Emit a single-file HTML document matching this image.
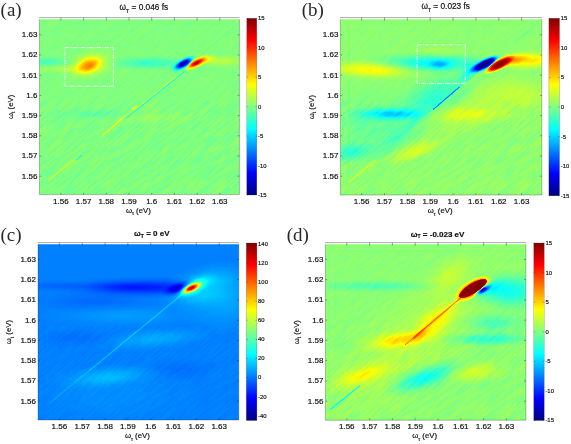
<!DOCTYPE html>
<html><head><meta charset="utf-8"><title>figure</title>
<style>
html,body{margin:0;padding:0;background:#fff;}
svg{display:block;will-change:transform;}
text{font-family:"Liberation Sans", Arial, Helvetica, sans-serif;fill:#111;stroke:#111;stroke-width:0.18px;}
.tk{font-size:8px;}
.cb{font-size:5.9px;}
.pl{font-family:"Liberation Serif", "DejaVu Serif", serif;font-size:19px;fill:#2a2a2a;stroke:none;}
.ax{font-size:7.8px;}
</style></head><body>
<svg width="571" height="444" viewBox="0 0 571 444">
<defs>
<radialGradient id="gp"><stop offset="0.00" stop-color="#fff" stop-opacity="1.000"/><stop offset="0.10" stop-color="#fff" stop-opacity="0.968"/><stop offset="0.20" stop-color="#fff" stop-opacity="0.877"/><stop offset="0.30" stop-color="#fff" stop-opacity="0.744"/><stop offset="0.40" stop-color="#fff" stop-opacity="0.588"/><stop offset="0.50" stop-color="#fff" stop-opacity="0.433"/><stop offset="0.60" stop-color="#fff" stop-opacity="0.294"/><stop offset="0.70" stop-color="#fff" stop-opacity="0.180"/><stop offset="0.80" stop-color="#fff" stop-opacity="0.096"/><stop offset="0.90" stop-color="#fff" stop-opacity="0.037"/><stop offset="1.00" stop-color="#fff" stop-opacity="0.000"/></radialGradient>
<radialGradient id="gn"><stop offset="0.00" stop-color="#000" stop-opacity="1.000"/><stop offset="0.10" stop-color="#000" stop-opacity="0.968"/><stop offset="0.20" stop-color="#000" stop-opacity="0.877"/><stop offset="0.30" stop-color="#000" stop-opacity="0.744"/><stop offset="0.40" stop-color="#000" stop-opacity="0.588"/><stop offset="0.50" stop-color="#000" stop-opacity="0.433"/><stop offset="0.60" stop-color="#000" stop-opacity="0.294"/><stop offset="0.70" stop-color="#000" stop-opacity="0.180"/><stop offset="0.80" stop-color="#000" stop-opacity="0.096"/><stop offset="0.90" stop-color="#000" stop-opacity="0.037"/><stop offset="1.00" stop-color="#000" stop-opacity="0.000"/></radialGradient>
<filter id="jet" filterUnits="userSpaceOnUse" x="0" y="0" width="571" height="444" color-interpolation-filters="sRGB">
<feGaussianBlur stdDeviation="0.7"/>
<feComponentTransfer>
<feFuncR type="table" tableValues="0 0 0 0 0.5 1 1 1 0.5"/>
<feFuncG type="table" tableValues="0 0 0.5 1 1 1 0.5 0 0"/>
<feFuncB type="table" tableValues="0.5 1 1 1 0.5 0 0 0 0"/>
</feComponentTransfer>
</filter>
<filter id="noise" filterUnits="userSpaceOnUse" x="-200" y="-200" width="400" height="400" color-interpolation-filters="sRGB">
<feTurbulence type="fractalNoise" baseFrequency="0.05 0.55" numOctaves="2" seed="7"/>
<feColorMatrix type="matrix" values="3.2 0 0 0 -1.1  3.2 0 0 0 -1.1  3.2 0 0 0 -1.1  0 0 0 0 1"/>
</filter>
<linearGradient id="cbar" x1="0" y1="1" x2="0" y2="0">
<stop offset="0" stop-color="#000080"/><stop offset="0.125" stop-color="#0000ff"/><stop offset="0.25" stop-color="#0080ff"/>
<stop offset="0.375" stop-color="#00ffff"/><stop offset="0.5" stop-color="#80ff80"/><stop offset="0.625" stop-color="#ffff00"/>
<stop offset="0.75" stop-color="#ff8000"/><stop offset="0.875" stop-color="#ff0000"/><stop offset="1" stop-color="#800000"/>
</linearGradient>
</defs>
<rect width="571" height="444" fill="#fff"/>

<clipPath id="cpa"><rect x="39.4" y="19.2" width="200.0" height="175.4"/></clipPath>
<g clip-path="url(#cpa)"><g filter="url(#jet)">
<rect x="37.4" y="17.2" width="204.0" height="179.4" fill="#808080"/>
<ellipse cx="88.8" cy="65.2" rx="19.0" ry="11.0" transform="rotate(-20 88.8 65.2)" fill="url(#gp)" opacity="0.400"/>
<ellipse cx="89.0" cy="65.0" rx="36.0" ry="19.0" transform="rotate(-12 89.0 65.0)" fill="url(#gp)" opacity="0.200"/>
<clipPath id="haU"><polygon points="-82.1,364.1 454.9,-228.9 158.4,-497.4 -378.6,95.6"/></clipPath>
<clipPath id="haL"><polygon points="-82.1,364.1 454.9,-228.9 751.4,39.6 214.4,632.6"/></clipPath>
<g clip-path="url(#haU)"><ellipse cx="183.6" cy="63.6" rx="15.5" ry="5.8" transform="rotate(-30 183.6 63.6)" fill="url(#gn)" opacity="1.000"/><ellipse cx="183.6" cy="63.6" rx="15.5" ry="5.8" transform="rotate(-30 183.6 63.6)" fill="url(#gn)" opacity="0.267"/></g>
<g clip-path="url(#haL)"><ellipse cx="196.3" cy="63.0" rx="16.5" ry="5.4" transform="rotate(-27 196.3 63.0)" fill="url(#gp)" opacity="0.933"/></g>
<ellipse cx="207.0" cy="59.5" rx="14.0" ry="6.0" transform="rotate(-15 207.0 59.5)" fill="url(#gp)" opacity="0.167"/>
<ellipse cx="150.0" cy="63.0" rx="55.0" ry="9.0" transform="rotate(0 150.0 63.0)" fill="url(#gn)" opacity="0.147"/>
<ellipse cx="45.0" cy="62.0" rx="50.0" ry="7.5" transform="rotate(0 45.0 62.0)" fill="url(#gn)" opacity="0.107"/>
<ellipse cx="60.0" cy="69.0" rx="67.5" ry="6.0" transform="rotate(0 60.0 69.0)" fill="url(#gp)" opacity="0.067"/>
<ellipse cx="222.0" cy="61.0" rx="39.0" ry="9.0" transform="rotate(0 222.0 61.0)" fill="url(#gp)" opacity="0.120"/>
<ellipse cx="95.0" cy="114.0" rx="60.0" ry="7.5" transform="rotate(0 95.0 114.0)" fill="url(#gn)" opacity="0.067"/>
<ellipse cx="150.0" cy="118.0" rx="75.0" ry="9.0" transform="rotate(0 150.0 118.0)" fill="url(#gp)" opacity="0.053"/>
<line x1="126.0" y1="118.5" x2="186.0" y2="70.5" stroke="#000" stroke-width="1.0" stroke-opacity="0.267" stroke-linecap="round" stroke-dasharray="2.2 0.8"/>
<line x1="121.0" y1="119.5" x2="176.0" y2="77.0" stroke="#fff" stroke-width="0.9" stroke-opacity="0.200" stroke-linecap="round" />
<line x1="133.0" y1="109.0" x2="136.5" y2="106.3" stroke="#fff" stroke-width="1.5" stroke-opacity="0.267" stroke-linecap="round" />
<line x1="193.0" y1="60.0" x2="239.0" y2="20.0" stroke="#fff" stroke-width="0.9" stroke-opacity="0.100" stroke-linecap="round" />
<line x1="195.5" y1="60.0" x2="239.0" y2="22.0" stroke="#000" stroke-width="0.8" stroke-opacity="0.067" stroke-linecap="round" />
<line x1="49.0" y1="180.0" x2="77.0" y2="157.3" stroke="#fff" stroke-width="1.4" stroke-opacity="0.187" stroke-linecap="round" />
<line x1="76.5" y1="159.6" x2="81.0" y2="156.0" stroke="#000" stroke-width="1.6" stroke-opacity="0.167" stroke-linecap="round" />
<line x1="103.0" y1="134.8" x2="121.0" y2="119.5" stroke="#fff" stroke-width="1.6" stroke-opacity="0.200" stroke-linecap="round" />
<clipPath id="nla"><rect x="39.4" y="101.2" width="200.0" height="93.4"/></clipPath>
<clipPath id="nua"><rect x="39.4" y="19.2" width="200.0" height="82.0"/></clipPath>
<g clip-path="url(#nla)"><g transform="translate(139.4 106.9) rotate(-41.2)" opacity="0.035"><rect x="-160" y="-160" width="320" height="320" filter="url(#noise)"/></g></g>
<g clip-path="url(#nua)"><g transform="translate(139.4 106.9) rotate(-41.2)" opacity="0.015"><rect x="-160" y="-160" width="320" height="320" filter="url(#noise)"/></g></g>
</g></g>
<path d="M39.4 19.2V194.6H239.4V19.2" fill="none" stroke="#222" stroke-opacity="0.5" stroke-width="0.6"/>
<path d="M39.1 17.6H239.70000000000002" fill="none" stroke="#888" stroke-width="0.7"/>
<path d="M60.9 194.6v-1.8M60.9 17.6v3.0" stroke="#222" stroke-width="0.5" stroke-opacity="0.8"/>
<text class="tk" x="60.9" y="203.7" text-anchor="middle">1.56</text>
<path d="M83.6 194.6v-1.8M83.6 17.6v3.0" stroke="#222" stroke-width="0.5" stroke-opacity="0.8"/>
<text class="tk" x="83.6" y="203.7" text-anchor="middle">1.57</text>
<path d="M106.3 194.6v-1.8M106.3 17.6v3.0" stroke="#222" stroke-width="0.5" stroke-opacity="0.8"/>
<text class="tk" x="106.3" y="203.7" text-anchor="middle">1.58</text>
<path d="M129.0 194.6v-1.8M129.0 17.6v3.0" stroke="#222" stroke-width="0.5" stroke-opacity="0.8"/>
<text class="tk" x="129.0" y="203.7" text-anchor="middle">1.59</text>
<path d="M151.7 194.6v-1.8M151.7 17.6v3.0" stroke="#222" stroke-width="0.5" stroke-opacity="0.8"/>
<text class="tk" x="151.7" y="203.7" text-anchor="middle">1.6</text>
<path d="M174.4 194.6v-1.8M174.4 17.6v3.0" stroke="#222" stroke-width="0.5" stroke-opacity="0.8"/>
<text class="tk" x="174.4" y="203.7" text-anchor="middle">1.61</text>
<path d="M197.1 194.6v-1.8M197.1 17.6v3.0" stroke="#222" stroke-width="0.5" stroke-opacity="0.8"/>
<text class="tk" x="197.1" y="203.7" text-anchor="middle">1.62</text>
<path d="M219.8 194.6v-1.8M219.8 17.6v3.0" stroke="#222" stroke-width="0.5" stroke-opacity="0.8"/>
<text class="tk" x="219.8" y="203.7" text-anchor="middle">1.63</text>
<path d="M39.4 176.2h1.8M239.4 176.2h-1.8" stroke="#222" stroke-width="0.5" stroke-opacity="0.8"/>
<text class="tk" x="37.4" y="178.5" text-anchor="end">1.56</text>
<path d="M39.4 156.0h1.8M239.4 156.0h-1.8" stroke="#222" stroke-width="0.5" stroke-opacity="0.8"/>
<text class="tk" x="37.4" y="158.3" text-anchor="end">1.57</text>
<path d="M39.4 135.79999999999998h1.8M239.4 135.79999999999998h-1.8" stroke="#222" stroke-width="0.5" stroke-opacity="0.8"/>
<text class="tk" x="37.4" y="138.1" text-anchor="end">1.58</text>
<path d="M39.4 115.6h1.8M239.4 115.6h-1.8" stroke="#222" stroke-width="0.5" stroke-opacity="0.8"/>
<text class="tk" x="37.4" y="117.9" text-anchor="end">1.59</text>
<path d="M39.4 95.39999999999999h1.8M239.4 95.39999999999999h-1.8" stroke="#222" stroke-width="0.5" stroke-opacity="0.8"/>
<text class="tk" x="37.4" y="97.7" text-anchor="end">1.6</text>
<path d="M39.4 75.19999999999999h1.8M239.4 75.19999999999999h-1.8" stroke="#222" stroke-width="0.5" stroke-opacity="0.8"/>
<text class="tk" x="37.4" y="77.5" text-anchor="end">1.61</text>
<path d="M39.4 55.0h1.8M239.4 55.0h-1.8" stroke="#222" stroke-width="0.5" stroke-opacity="0.8"/>
<text class="tk" x="37.4" y="57.3" text-anchor="end">1.62</text>
<path d="M39.4 34.79999999999998h1.8M239.4 34.79999999999998h-1.8" stroke="#222" stroke-width="0.5" stroke-opacity="0.8"/>
<text class="tk" x="37.4" y="37.1" text-anchor="end">1.63</text>
<text class="ax" x="138.4" y="212.6" text-anchor="middle">ω<tspan font-size="4.8" dy="2.8">τ</tspan><tspan dy="-2.8"> (eV)</tspan></text>
<text class="ax" transform="translate(12.6 106.9) rotate(-90)" text-anchor="middle">ω<tspan font-size="4.8" dy="2.6">t</tspan><tspan dy="-2.6"> (eV)</tspan></text>
<text x="143.9" y="9.5" text-anchor="middle" font-size="8.3" font-weight="normal">ω<tspan font-size="5.1" dy="3.4">T</tspan><tspan dy="-3.4"> = 0.046 fs</tspan></text>
<rect x="246.8" y="18.3" width="10.0" height="176.7" fill="url(#cbar)"/>
<rect x="246.8" y="18.3" width="10.0" height="176.7" fill="none" stroke="#333" stroke-opacity="0.5" stroke-width="0.4"/>
<path d="M246.8 18.3h1.5M256.8 18.3h-1.5" stroke="#222" stroke-width="0.4" stroke-opacity="0.7"/>
<text class="cb" x="258.0" y="20.2">15</text>
<path d="M246.8 47.75h1.5M256.8 47.75h-1.5" stroke="#222" stroke-width="0.4" stroke-opacity="0.7"/>
<text class="cb" x="258.0" y="49.6">10</text>
<path d="M246.8 77.2h1.5M256.8 77.2h-1.5" stroke="#222" stroke-width="0.4" stroke-opacity="0.7"/>
<text class="cb" x="258.0" y="79.1">5</text>
<path d="M246.8 106.64999999999998h1.5M256.8 106.64999999999998h-1.5" stroke="#222" stroke-width="0.4" stroke-opacity="0.7"/>
<text class="cb" x="258.0" y="108.5">0</text>
<path d="M246.8 136.1h1.5M256.8 136.1h-1.5" stroke="#222" stroke-width="0.4" stroke-opacity="0.7"/>
<text class="cb" x="258.0" y="138.0">-5</text>
<path d="M246.8 165.55h1.5M256.8 165.55h-1.5" stroke="#222" stroke-width="0.4" stroke-opacity="0.7"/>
<text class="cb" x="258.0" y="167.5">-10</text>
<path d="M246.8 194.99999999999997h1.5M256.8 194.99999999999997h-1.5" stroke="#222" stroke-width="0.4" stroke-opacity="0.7"/>
<text class="cb" x="258.0" y="196.9">-15</text>
<text class="pl" x="0.6" y="15.6">(a)</text>
<rect x="64.8" y="47.6" width="48.6" height="38.6" fill="none" stroke="#fff" stroke-width="0.8" stroke-dasharray="4.5 1.2 1 1.2"/>
<clipPath id="cpb"><rect x="340.4" y="19.2" width="201.39999999999998" height="175.8"/></clipPath>
<g clip-path="url(#cpb)"><g filter="url(#jet)">
<rect x="338.4" y="17.2" width="205.39999999999998" height="179.8" fill="#848484"/>
<ellipse cx="378.0" cy="69.5" rx="58.0" ry="12.5" transform="rotate(0 378.0 69.5)" fill="url(#gp)" opacity="0.248"/>
<ellipse cx="350.0" cy="68.0" rx="40.0" ry="10.0" transform="rotate(0 350.0 68.0)" fill="url(#gp)" opacity="0.069"/>
<ellipse cx="432.0" cy="63.2" rx="85.0" ry="13.0" transform="rotate(0 432.0 63.2)" fill="url(#gn)" opacity="0.271"/>
<ellipse cx="439.5" cy="64.5" rx="16.0" ry="7.5" transform="rotate(0 439.5 64.5)" fill="url(#gn)" opacity="0.258"/>
<ellipse cx="440.0" cy="51.0" rx="40.0" ry="7.0" transform="rotate(0 440.0 51.0)" fill="url(#gp)" opacity="0.055"/>
<clipPath id="hbU"><polygon points="196.2,344.7 776.6,-205.7 501.4,-496.0 -79.1,54.5"/></clipPath>
<clipPath id="hbL"><polygon points="196.2,344.7 776.6,-205.7 1051.9,84.5 471.4,635.0"/></clipPath>
<g clip-path="url(#hbU)"><ellipse cx="484.8" cy="64.2" rx="18.5" ry="5.6" transform="rotate(-28 484.8 64.2)" fill="url(#gn)" opacity="1.000"/><ellipse cx="484.8" cy="64.2" rx="18.5" ry="5.6" transform="rotate(-28 484.8 64.2)" fill="url(#gn)" opacity="1.000"/><ellipse cx="484.8" cy="64.2" rx="18.5" ry="5.6" transform="rotate(-28 484.8 64.2)" fill="url(#gn)" opacity="0.903"/></g>
<g clip-path="url(#hbL)"><ellipse cx="499.8" cy="64.2" rx="18.5" ry="5.6" transform="rotate(-28 499.8 64.2)" fill="url(#gp)" opacity="1.000"/><ellipse cx="499.8" cy="64.2" rx="18.5" ry="5.6" transform="rotate(-28 499.8 64.2)" fill="url(#gp)" opacity="1.000"/><ellipse cx="499.8" cy="64.2" rx="18.5" ry="5.6" transform="rotate(-28 499.8 64.2)" fill="url(#gp)" opacity="1.000"/><ellipse cx="499.8" cy="64.2" rx="18.5" ry="5.6" transform="rotate(-28 499.8 64.2)" fill="url(#gp)" opacity="0.103"/></g>
<ellipse cx="474.0" cy="68.0" rx="20.0" ry="8.0" transform="rotate(-25 474.0 68.0)" fill="url(#gn)" opacity="0.226"/>
<ellipse cx="466.0" cy="76.0" rx="14.0" ry="7.0" transform="rotate(-40 466.0 76.0)" fill="url(#gn)" opacity="0.161"/>
<ellipse cx="513.0" cy="60.0" rx="22.0" ry="8.0" transform="rotate(-15 513.0 60.0)" fill="url(#gp)" opacity="0.345"/>
<ellipse cx="530.0" cy="60.5" rx="42.0" ry="12.0" transform="rotate(-3 530.0 60.5)" fill="url(#gp)" opacity="0.290"/>
<ellipse cx="520.0" cy="95.0" rx="60.0" ry="27.0" transform="rotate(0 520.0 95.0)" fill="url(#gp)" opacity="0.103"/>
<clipPath id="hdU"><polygon points="129.8,370.1 736.8,-151.1 476.2,-454.6 -130.8,66.6"/></clipPath>
<clipPath id="hdL"><polygon points="129.8,370.1 736.8,-151.1 997.4,152.4 390.4,673.6"/></clipPath>
<g clip-path="url(#hdU)"><ellipse cx="436.0" cy="98.0" rx="60.0" ry="30.0" transform="rotate(-25 436.0 98.0)" fill="url(#gn)" opacity="0.194"/></g>
<g clip-path="url(#hdL)"><ellipse cx="470.0" cy="110.0" rx="70.0" ry="30.0" transform="rotate(-30 470.0 110.0)" fill="url(#gp)" opacity="0.069"/></g>
<ellipse cx="392.0" cy="114.0" rx="51.0" ry="9.0" transform="rotate(0 392.0 114.0)" fill="url(#gn)" opacity="0.355"/>
<ellipse cx="372.0" cy="125.0" rx="70.0" ry="50.0" transform="rotate(0 372.0 125.0)" fill="url(#gn)" opacity="0.084"/>
<ellipse cx="352.0" cy="152.0" rx="30.0" ry="13.5" transform="rotate(-10 352.0 152.0)" fill="url(#gn)" opacity="0.194"/>
<ellipse cx="415.0" cy="151.0" rx="38.0" ry="11.0" transform="rotate(-20 415.0 151.0)" fill="url(#gp)" opacity="0.179"/>
<ellipse cx="470.0" cy="115.0" rx="67.5" ry="12.0" transform="rotate(0 470.0 115.0)" fill="url(#gp)" opacity="0.138"/>
<ellipse cx="400.0" cy="135.0" rx="60.0" ry="12.0" transform="rotate(-38 400.0 135.0)" fill="url(#gn)" opacity="0.097"/>
<ellipse cx="455.0" cy="100.0" rx="40.0" ry="9.0" transform="rotate(-40 455.0 100.0)" fill="url(#gn)" opacity="0.097"/>
<line x1="433.3" y1="109.5" x2="459.5" y2="87.0" stroke="#000" stroke-width="1.3" stroke-opacity="0.516" stroke-linecap="round" stroke-dasharray="2.2 0.7"/>
<line x1="459.5" y1="87.0" x2="482.0" y2="68.0" stroke="#000" stroke-width="1.0" stroke-opacity="0.194" stroke-linecap="round" />
<line x1="349.0" y1="182.0" x2="376.0" y2="160.0" stroke="#fff" stroke-width="1.3" stroke-opacity="0.221" stroke-linecap="round" />
<line x1="514.0" y1="44.0" x2="541.0" y2="19.0" stroke="#000" stroke-width="0.9" stroke-opacity="0.097" stroke-linecap="round" />
<clipPath id="nlb"><rect x="340.4" y="101.2" width="201.39999999999998" height="93.8"/></clipPath>
<clipPath id="nub"><rect x="340.4" y="19.2" width="201.39999999999998" height="82.0"/></clipPath>
<g clip-path="url(#nlb)"><g transform="translate(441.1 107.1) rotate(-41.2)" opacity="0.035"><rect x="-160" y="-160" width="320" height="320" filter="url(#noise)"/></g></g>
<g clip-path="url(#nub)"><g transform="translate(441.1 107.1) rotate(-41.2)" opacity="0.015"><rect x="-160" y="-160" width="320" height="320" filter="url(#noise)"/></g></g>
</g></g>
<path d="M340.4 19.2V195.0H541.8V19.2" fill="none" stroke="#222" stroke-opacity="0.5" stroke-width="0.6"/>
<path d="M340.09999999999997 17.6H542.0999999999999" fill="none" stroke="#888" stroke-width="0.7"/>
<path d="M361.6 195.0v-1.8M361.6 17.6v3.0" stroke="#222" stroke-width="0.5" stroke-opacity="0.8"/>
<text class="tk" x="361.6" y="204.1" text-anchor="middle">1.56</text>
<path d="M384.5 195.0v-1.8M384.5 17.6v3.0" stroke="#222" stroke-width="0.5" stroke-opacity="0.8"/>
<text class="tk" x="384.46000000000004" y="204.1" text-anchor="middle">1.57</text>
<path d="M407.3 195.0v-1.8M407.3 17.6v3.0" stroke="#222" stroke-width="0.5" stroke-opacity="0.8"/>
<text class="tk" x="407.32000000000005" y="204.1" text-anchor="middle">1.58</text>
<path d="M430.2 195.0v-1.8M430.2 17.6v3.0" stroke="#222" stroke-width="0.5" stroke-opacity="0.8"/>
<text class="tk" x="430.18" y="204.1" text-anchor="middle">1.59</text>
<path d="M453.0 195.0v-1.8M453.0 17.6v3.0" stroke="#222" stroke-width="0.5" stroke-opacity="0.8"/>
<text class="tk" x="453.04" y="204.1" text-anchor="middle">1.6</text>
<path d="M475.9 195.0v-1.8M475.9 17.6v3.0" stroke="#222" stroke-width="0.5" stroke-opacity="0.8"/>
<text class="tk" x="475.90000000000003" y="204.1" text-anchor="middle">1.61</text>
<path d="M498.8 195.0v-1.8M498.8 17.6v3.0" stroke="#222" stroke-width="0.5" stroke-opacity="0.8"/>
<text class="tk" x="498.76" y="204.1" text-anchor="middle">1.62</text>
<path d="M521.6 195.0v-1.8M521.6 17.6v3.0" stroke="#222" stroke-width="0.5" stroke-opacity="0.8"/>
<text class="tk" x="521.62" y="204.1" text-anchor="middle">1.63</text>
<path d="M340.4 176.2h1.8M541.8 176.2h-1.8" stroke="#222" stroke-width="0.5" stroke-opacity="0.8"/>
<text class="tk" x="338.4" y="178.5" text-anchor="end">1.56</text>
<path d="M340.4 156.0h1.8M541.8 156.0h-1.8" stroke="#222" stroke-width="0.5" stroke-opacity="0.8"/>
<text class="tk" x="338.4" y="158.3" text-anchor="end">1.57</text>
<path d="M340.4 135.79999999999998h1.8M541.8 135.79999999999998h-1.8" stroke="#222" stroke-width="0.5" stroke-opacity="0.8"/>
<text class="tk" x="338.4" y="138.1" text-anchor="end">1.58</text>
<path d="M340.4 115.6h1.8M541.8 115.6h-1.8" stroke="#222" stroke-width="0.5" stroke-opacity="0.8"/>
<text class="tk" x="338.4" y="117.9" text-anchor="end">1.59</text>
<path d="M340.4 95.39999999999999h1.8M541.8 95.39999999999999h-1.8" stroke="#222" stroke-width="0.5" stroke-opacity="0.8"/>
<text class="tk" x="338.4" y="97.7" text-anchor="end">1.6</text>
<path d="M340.4 75.19999999999999h1.8M541.8 75.19999999999999h-1.8" stroke="#222" stroke-width="0.5" stroke-opacity="0.8"/>
<text class="tk" x="338.4" y="77.5" text-anchor="end">1.61</text>
<path d="M340.4 55.0h1.8M541.8 55.0h-1.8" stroke="#222" stroke-width="0.5" stroke-opacity="0.8"/>
<text class="tk" x="338.4" y="57.3" text-anchor="end">1.62</text>
<path d="M340.4 34.79999999999998h1.8M541.8 34.79999999999998h-1.8" stroke="#222" stroke-width="0.5" stroke-opacity="0.8"/>
<text class="tk" x="338.4" y="37.1" text-anchor="end">1.63</text>
<text class="ax" x="440.1" y="213.0" text-anchor="middle">ω<tspan font-size="4.8" dy="2.8">τ</tspan><tspan dy="-2.8"> (eV)</tspan></text>
<text class="ax" transform="translate(313.6 107.1) rotate(-90)" text-anchor="middle">ω<tspan font-size="4.8" dy="2.6">t</tspan><tspan dy="-2.6"> (eV)</tspan></text>
<text x="445.7" y="8.9" text-anchor="middle" font-size="8.3" font-weight="normal">ω<tspan font-size="5.1" dy="3.4">T</tspan><tspan dy="-3.4"> = 0.023 fs</tspan></text>
<rect x="548.9" y="18.3" width="10.6" height="177.5" fill="url(#cbar)"/>
<rect x="548.9" y="18.3" width="10.6" height="177.5" fill="none" stroke="#333" stroke-opacity="0.5" stroke-width="0.4"/>
<path d="M548.9 18.3h1.5M559.5 18.3h-1.5" stroke="#222" stroke-width="0.4" stroke-opacity="0.7"/>
<text class="cb" x="560.7" y="20.2">15</text>
<path d="M548.9 47.88333333333333h1.5M559.5 47.88333333333333h-1.5" stroke="#222" stroke-width="0.4" stroke-opacity="0.7"/>
<text class="cb" x="560.7" y="49.8">10</text>
<path d="M548.9 77.46666666666667h1.5M559.5 77.46666666666667h-1.5" stroke="#222" stroke-width="0.4" stroke-opacity="0.7"/>
<text class="cb" x="560.7" y="79.4">5</text>
<path d="M548.9 107.05h1.5M559.5 107.05h-1.5" stroke="#222" stroke-width="0.4" stroke-opacity="0.7"/>
<text class="cb" x="560.7" y="109.0">0</text>
<path d="M548.9 136.63333333333333h1.5M559.5 136.63333333333333h-1.5" stroke="#222" stroke-width="0.4" stroke-opacity="0.7"/>
<text class="cb" x="560.7" y="138.5">-5</text>
<path d="M548.9 166.21666666666667h1.5M559.5 166.21666666666667h-1.5" stroke="#222" stroke-width="0.4" stroke-opacity="0.7"/>
<text class="cb" x="560.7" y="168.1">-10</text>
<path d="M548.9 195.8h1.5M559.5 195.8h-1.5" stroke="#222" stroke-width="0.4" stroke-opacity="0.7"/>
<text class="cb" x="560.7" y="197.7">-15</text>
<text class="pl" x="301.8" y="15.6">(b)</text>
<rect x="417" y="44.8" width="48.3" height="38.6" fill="none" stroke="#fff" stroke-width="0.8" stroke-dasharray="4.5 1.2 1 1.2"/>
<clipPath id="cpc"><rect x="38.0" y="244.2" width="200.8" height="175.8"/></clipPath>
<g clip-path="url(#cpc)"><g filter="url(#jet)">
<rect x="36.0" y="242.2" width="204.8" height="179.8" fill="#404040"/>
<ellipse cx="148.0" cy="287.5" rx="100.0" ry="12.0" transform="rotate(0 148.0 287.5)" fill="url(#gn)" opacity="0.383"/>
<ellipse cx="120.0" cy="287.0" rx="45.0" ry="7.0" transform="rotate(0 120.0 287.0)" fill="url(#gn)" opacity="0.128"/>
<ellipse cx="180.5" cy="288.0" rx="21.0" ry="7.5" transform="rotate(-14 180.5 288.0)" fill="url(#gn)" opacity="0.894"/>
<ellipse cx="55.0" cy="286.0" rx="60.0" ry="7.0" transform="rotate(0 55.0 286.0)" fill="url(#gn)" opacity="0.106"/>
<ellipse cx="95.0" cy="301.0" rx="80.0" ry="14.0" transform="rotate(0 95.0 301.0)" fill="url(#gn)" opacity="0.085"/>
<ellipse cx="202.0" cy="288.0" rx="50.0" ry="24.0" transform="rotate(-18 202.0 288.0)" fill="url(#gp)" opacity="0.094"/>
<ellipse cx="222.0" cy="298.0" rx="55.0" ry="42.0" transform="rotate(0 222.0 298.0)" fill="url(#gp)" opacity="0.058"/>
<ellipse cx="195.0" cy="286.0" rx="26.0" ry="11.0" transform="rotate(-25 195.0 286.0)" fill="url(#gp)" opacity="0.158"/>
<ellipse cx="191.5" cy="288.0" rx="19.0" ry="8.0" transform="rotate(-25 191.5 288.0)" fill="url(#gp)" opacity="0.288"/>
<ellipse cx="191.3" cy="288.0" rx="13.5" ry="5.2" transform="rotate(-25 191.3 288.0)" fill="url(#gp)" opacity="0.899"/>
<ellipse cx="125.0" cy="316.0" rx="100.0" ry="14.0" transform="rotate(0 125.0 316.0)" fill="url(#gp)" opacity="0.036"/>
<ellipse cx="108.0" cy="377.0" rx="60.0" ry="13.5" transform="rotate(-5 108.0 377.0)" fill="url(#gp)" opacity="0.072"/>
<ellipse cx="110.0" cy="395.0" rx="120.0" ry="40.0" transform="rotate(0 110.0 395.0)" fill="url(#gp)" opacity="0.018"/>
<ellipse cx="155.0" cy="339.0" rx="67.5" ry="13.5" transform="rotate(-5 155.0 339.0)" fill="url(#gp)" opacity="0.058"/>
<ellipse cx="75.0" cy="338.0" rx="50.0" ry="12.0" transform="rotate(0 75.0 338.0)" fill="url(#gn)" opacity="0.064"/>
<ellipse cx="182.0" cy="370.0" rx="48.0" ry="15.0" transform="rotate(0 182.0 370.0)" fill="url(#gn)" opacity="0.064"/>
<line x1="135.0" y1="333.0" x2="185.0" y2="292.0" stroke="#fff" stroke-width="1.3" stroke-opacity="0.079" stroke-linecap="round" />
<line x1="90.0" y1="370.0" x2="135.0" y2="333.0" stroke="#fff" stroke-width="1.3" stroke-opacity="0.079" stroke-linecap="round" />
<line x1="49.2" y1="403.6" x2="90.0" y2="370.0" stroke="#fff" stroke-width="1.2" stroke-opacity="0.050" stroke-linecap="round" />
<clipPath id="nlc"><rect x="38.0" y="326.2" width="200.8" height="93.8"/></clipPath>
<clipPath id="nuc"><rect x="38.0" y="244.2" width="200.8" height="82.0"/></clipPath>
<g clip-path="url(#nlc)"><g transform="translate(138.4 332.1) rotate(-41.2)" opacity="0.006"><rect x="-160" y="-160" width="320" height="320" filter="url(#noise)"/></g></g>
</g></g>
<path d="M38.0 244.2V420.0H238.8V244.2" fill="none" stroke="#222" stroke-opacity="0.5" stroke-width="0.6"/>
<path d="M37.7 242.6H239.10000000000002" fill="none" stroke="#888" stroke-width="0.7"/>
<path d="M59.4 420.0v-1.8M59.4 242.6v3.0" stroke="#222" stroke-width="0.5" stroke-opacity="0.8"/>
<text class="tk" x="59.4" y="429.1" text-anchor="middle">1.56</text>
<path d="M82.2 420.0v-1.8M82.2 242.6v3.0" stroke="#222" stroke-width="0.5" stroke-opacity="0.8"/>
<text class="tk" x="82.22999999999999" y="429.1" text-anchor="middle">1.57</text>
<path d="M105.1 420.0v-1.8M105.1 242.6v3.0" stroke="#222" stroke-width="0.5" stroke-opacity="0.8"/>
<text class="tk" x="105.06" y="429.1" text-anchor="middle">1.58</text>
<path d="M127.9 420.0v-1.8M127.9 242.6v3.0" stroke="#222" stroke-width="0.5" stroke-opacity="0.8"/>
<text class="tk" x="127.88999999999999" y="429.1" text-anchor="middle">1.59</text>
<path d="M150.7 420.0v-1.8M150.7 242.6v3.0" stroke="#222" stroke-width="0.5" stroke-opacity="0.8"/>
<text class="tk" x="150.72" y="429.1" text-anchor="middle">1.6</text>
<path d="M173.5 420.0v-1.8M173.5 242.6v3.0" stroke="#222" stroke-width="0.5" stroke-opacity="0.8"/>
<text class="tk" x="173.54999999999998" y="429.1" text-anchor="middle">1.61</text>
<path d="M196.4 420.0v-1.8M196.4 242.6v3.0" stroke="#222" stroke-width="0.5" stroke-opacity="0.8"/>
<text class="tk" x="196.38" y="429.1" text-anchor="middle">1.62</text>
<path d="M219.2 420.0v-1.8M219.2 242.6v3.0" stroke="#222" stroke-width="0.5" stroke-opacity="0.8"/>
<text class="tk" x="219.21" y="429.1" text-anchor="middle">1.63</text>
<path d="M38.0 401.2h1.8M238.8 401.2h-1.8" stroke="#222" stroke-width="0.5" stroke-opacity="0.8"/>
<text class="tk" x="36.0" y="403.5" text-anchor="end">1.56</text>
<path d="M38.0 380.94h1.8M238.8 380.94h-1.8" stroke="#222" stroke-width="0.5" stroke-opacity="0.8"/>
<text class="tk" x="36.0" y="383.2" text-anchor="end">1.57</text>
<path d="M38.0 360.68h1.8M238.8 360.68h-1.8" stroke="#222" stroke-width="0.5" stroke-opacity="0.8"/>
<text class="tk" x="36.0" y="363.0" text-anchor="end">1.58</text>
<path d="M38.0 340.41999999999996h1.8M238.8 340.41999999999996h-1.8" stroke="#222" stroke-width="0.5" stroke-opacity="0.8"/>
<text class="tk" x="36.0" y="342.7" text-anchor="end">1.59</text>
<path d="M38.0 320.15999999999997h1.8M238.8 320.15999999999997h-1.8" stroke="#222" stroke-width="0.5" stroke-opacity="0.8"/>
<text class="tk" x="36.0" y="322.5" text-anchor="end">1.6</text>
<path d="M38.0 299.9h1.8M238.8 299.9h-1.8" stroke="#222" stroke-width="0.5" stroke-opacity="0.8"/>
<text class="tk" x="36.0" y="302.2" text-anchor="end">1.61</text>
<path d="M38.0 279.64h1.8M238.8 279.64h-1.8" stroke="#222" stroke-width="0.5" stroke-opacity="0.8"/>
<text class="tk" x="36.0" y="281.9" text-anchor="end">1.62</text>
<path d="M38.0 259.38h1.8M238.8 259.38h-1.8" stroke="#222" stroke-width="0.5" stroke-opacity="0.8"/>
<text class="tk" x="36.0" y="261.7" text-anchor="end">1.63</text>
<text class="ax" x="137.4" y="438.0" text-anchor="middle">ω<tspan font-size="4.8" dy="2.8">τ</tspan><tspan dy="-2.8"> (eV)</tspan></text>
<text class="ax" transform="translate(11.2 332.1) rotate(-90)" text-anchor="middle">ω<tspan font-size="4.8" dy="2.6">t</tspan><tspan dy="-2.6"> (eV)</tspan></text>
<text x="151.8" y="236.4" text-anchor="middle" font-size="8.0" font-weight="bold">ω<tspan font-size="5.0" dy="1.6">T</tspan><tspan dy="-1.6"> = 0 eV</tspan></text>
<rect x="246.3" y="243.0" width="10.6" height="177.5" fill="url(#cbar)"/>
<rect x="246.3" y="243.0" width="10.6" height="177.5" fill="none" stroke="#333" stroke-opacity="0.5" stroke-width="0.4"/>
<path d="M246.3 244.0h1.5M256.9 244.0h-1.5" stroke="#222" stroke-width="0.4" stroke-opacity="0.7"/>
<text class="cb" x="258.1" y="245.9">140</text>
<path d="M246.3 263.07h1.5M256.9 263.07h-1.5" stroke="#222" stroke-width="0.4" stroke-opacity="0.7"/>
<text class="cb" x="258.1" y="265.0">120</text>
<path d="M246.3 282.14h1.5M256.9 282.14h-1.5" stroke="#222" stroke-width="0.4" stroke-opacity="0.7"/>
<text class="cb" x="258.1" y="284.0">100</text>
<path d="M246.3 301.21h1.5M256.9 301.21h-1.5" stroke="#222" stroke-width="0.4" stroke-opacity="0.7"/>
<text class="cb" x="258.1" y="303.1">80</text>
<path d="M246.3 320.28h1.5M256.9 320.28h-1.5" stroke="#222" stroke-width="0.4" stroke-opacity="0.7"/>
<text class="cb" x="258.1" y="322.2">60</text>
<path d="M246.3 339.35h1.5M256.9 339.35h-1.5" stroke="#222" stroke-width="0.4" stroke-opacity="0.7"/>
<text class="cb" x="258.1" y="341.2">40</text>
<path d="M246.3 358.42h1.5M256.9 358.42h-1.5" stroke="#222" stroke-width="0.4" stroke-opacity="0.7"/>
<text class="cb" x="258.1" y="360.3">20</text>
<path d="M246.3 377.49h1.5M256.9 377.49h-1.5" stroke="#222" stroke-width="0.4" stroke-opacity="0.7"/>
<text class="cb" x="258.1" y="379.4">0</text>
<path d="M246.3 396.56h1.5M256.9 396.56h-1.5" stroke="#222" stroke-width="0.4" stroke-opacity="0.7"/>
<text class="cb" x="258.1" y="398.5">-20</text>
<path d="M246.3 415.63h1.5M256.9 415.63h-1.5" stroke="#222" stroke-width="0.4" stroke-opacity="0.7"/>
<text class="cb" x="258.1" y="417.5">-40</text>
<text class="pl" x="0.4" y="240.6">(c)</text>
<clipPath id="cpd"><rect x="325.4" y="244.2" width="200.5" height="176.0"/></clipPath>
<g clip-path="url(#cpd)"><g filter="url(#jet)">
<rect x="323.4" y="242.2" width="204.5" height="180.0" fill="#838383"/>
<ellipse cx="410.0" cy="345.0" rx="170.0" ry="60.0" transform="rotate(-41 410.0 345.0)" fill="url(#gp)" opacity="0.082"/>
<ellipse cx="375.0" cy="286.0" rx="90.0" ry="7.5" transform="rotate(0 375.0 286.0)" fill="url(#gn)" opacity="0.117"/>
<ellipse cx="450.0" cy="275.0" rx="40.0" ry="22.0" transform="rotate(-40 450.0 275.0)" fill="url(#gp)" opacity="0.103"/>
<ellipse cx="508.0" cy="291.0" rx="50.0" ry="24.0" transform="rotate(0 508.0 291.0)" fill="url(#gn)" opacity="0.260"/>
<ellipse cx="492.0" cy="288.0" rx="20.0" ry="9.0" transform="rotate(-20 492.0 288.0)" fill="url(#gn)" opacity="0.162"/>
<ellipse cx="472.9" cy="288.5" rx="23.0" ry="9.2" transform="rotate(-31.4 472.9 288.5)" fill="url(#gp)" opacity="1.000"/>
<ellipse cx="472.9" cy="288.5" rx="23.0" ry="9.2" transform="rotate(-31.4 472.9 288.5)" fill="url(#gp)" opacity="1.000"/>
<ellipse cx="472.9" cy="288.5" rx="23.0" ry="9.2" transform="rotate(-31.4 472.9 288.5)" fill="url(#gp)" opacity="0.055"/>
<ellipse cx="483.0" cy="290.0" rx="12.5" ry="4.6" transform="rotate(-31 483.0 290.0)" fill="url(#gn)" opacity="0.909"/>
<ellipse cx="472.9" cy="288.5" rx="16.0" ry="5.0" transform="rotate(-31.4 472.9 288.5)" fill="#fff" opacity="1.000"/>
<ellipse cx="494.0" cy="323.0" rx="45.0" ry="15.0" transform="rotate(0 494.0 323.0)" fill="url(#gn)" opacity="0.130"/>
<ellipse cx="437.0" cy="320.0" rx="40.0" ry="18.0" transform="rotate(-38 437.0 320.0)" fill="url(#gp)" opacity="0.205"/>
<ellipse cx="400.0" cy="340.0" rx="48.0" ry="12.5" transform="rotate(-8 400.0 340.0)" fill="url(#gp)" opacity="0.288"/>
<ellipse cx="421.0" cy="333.5" rx="18.0" ry="7.0" transform="rotate(-38 421.0 333.5)" fill="url(#gp)" opacity="0.240"/>
<ellipse cx="362.0" cy="375.5" rx="46.0" ry="14.0" transform="rotate(-18 362.0 375.5)" fill="url(#gp)" opacity="0.219"/>
<ellipse cx="424.0" cy="378.0" rx="50.0" ry="16.0" transform="rotate(-18 424.0 378.0)" fill="url(#gn)" opacity="0.273"/>
<ellipse cx="487.0" cy="339.0" rx="57.0" ry="9.0" transform="rotate(0 487.0 339.0)" fill="url(#gn)" opacity="0.195"/>
<ellipse cx="476.0" cy="372.0" rx="42.0" ry="13.5" transform="rotate(-10 476.0 372.0)" fill="url(#gp)" opacity="0.151"/>
<line x1="414.0" y1="338.0" x2="460.0" y2="298.5" stroke="#fff" stroke-width="2.4" stroke-opacity="0.205" stroke-linecap="round" />
<line x1="405.3" y1="344.7" x2="460.0" y2="298.5" stroke="#fff" stroke-width="1.0" stroke-opacity="0.377" stroke-linecap="round" stroke-dasharray="2.4 0.6"/>
<line x1="331.0" y1="409.0" x2="360.0" y2="385.5" stroke="#000" stroke-width="1.3" stroke-opacity="0.292" stroke-linecap="round" stroke-dasharray="2.2 0.7"/>
<line x1="492.0" y1="273.0" x2="520.0" y2="248.0" stroke="#fff" stroke-width="1.0" stroke-opacity="0.082" stroke-linecap="round" />
<clipPath id="nld"><rect x="325.4" y="326.2" width="200.5" height="94.0"/></clipPath>
<clipPath id="nud"><rect x="325.4" y="244.2" width="200.5" height="82.0"/></clipPath>
<g clip-path="url(#nld)"><g transform="translate(425.6 332.2) rotate(-41.2)" opacity="0.035"><rect x="-160" y="-160" width="320" height="320" filter="url(#noise)"/></g></g>
<g clip-path="url(#nud)"><g transform="translate(425.6 332.2) rotate(-41.2)" opacity="0.02"><rect x="-160" y="-160" width="320" height="320" filter="url(#noise)"/></g></g>
</g></g>
<path d="M325.4 244.2V420.2H525.9V244.2" fill="none" stroke="#222" stroke-opacity="0.5" stroke-width="0.6"/>
<path d="M325.09999999999997 242.6H526.1999999999999" fill="none" stroke="#888" stroke-width="0.7"/>
<path d="M346.8 420.2v-1.8M346.8 242.6v3.0" stroke="#222" stroke-width="0.5" stroke-opacity="0.8"/>
<text class="tk" x="346.8" y="429.3" text-anchor="middle">1.56</text>
<path d="M369.6 420.2v-1.8M369.6 242.6v3.0" stroke="#222" stroke-width="0.5" stroke-opacity="0.8"/>
<text class="tk" x="369.6" y="429.3" text-anchor="middle">1.57</text>
<path d="M392.4 420.2v-1.8M392.4 242.6v3.0" stroke="#222" stroke-width="0.5" stroke-opacity="0.8"/>
<text class="tk" x="392.40000000000003" y="429.3" text-anchor="middle">1.58</text>
<path d="M415.2 420.2v-1.8M415.2 242.6v3.0" stroke="#222" stroke-width="0.5" stroke-opacity="0.8"/>
<text class="tk" x="415.20000000000005" y="429.3" text-anchor="middle">1.59</text>
<path d="M438.0 420.2v-1.8M438.0 242.6v3.0" stroke="#222" stroke-width="0.5" stroke-opacity="0.8"/>
<text class="tk" x="438.0" y="429.3" text-anchor="middle">1.6</text>
<path d="M460.8 420.2v-1.8M460.8 242.6v3.0" stroke="#222" stroke-width="0.5" stroke-opacity="0.8"/>
<text class="tk" x="460.8" y="429.3" text-anchor="middle">1.61</text>
<path d="M483.6 420.2v-1.8M483.6 242.6v3.0" stroke="#222" stroke-width="0.5" stroke-opacity="0.8"/>
<text class="tk" x="483.6" y="429.3" text-anchor="middle">1.62</text>
<path d="M506.4 420.2v-1.8M506.4 242.6v3.0" stroke="#222" stroke-width="0.5" stroke-opacity="0.8"/>
<text class="tk" x="506.4" y="429.3" text-anchor="middle">1.63</text>
<path d="M325.4 401.2h1.8M525.9 401.2h-1.8" stroke="#222" stroke-width="0.5" stroke-opacity="0.8"/>
<text class="tk" x="323.4" y="403.5" text-anchor="end">1.56</text>
<path d="M325.4 380.94h1.8M525.9 380.94h-1.8" stroke="#222" stroke-width="0.5" stroke-opacity="0.8"/>
<text class="tk" x="323.4" y="383.2" text-anchor="end">1.57</text>
<path d="M325.4 360.68h1.8M525.9 360.68h-1.8" stroke="#222" stroke-width="0.5" stroke-opacity="0.8"/>
<text class="tk" x="323.4" y="363.0" text-anchor="end">1.58</text>
<path d="M325.4 340.41999999999996h1.8M525.9 340.41999999999996h-1.8" stroke="#222" stroke-width="0.5" stroke-opacity="0.8"/>
<text class="tk" x="323.4" y="342.7" text-anchor="end">1.59</text>
<path d="M325.4 320.15999999999997h1.8M525.9 320.15999999999997h-1.8" stroke="#222" stroke-width="0.5" stroke-opacity="0.8"/>
<text class="tk" x="323.4" y="322.5" text-anchor="end">1.6</text>
<path d="M325.4 299.9h1.8M525.9 299.9h-1.8" stroke="#222" stroke-width="0.5" stroke-opacity="0.8"/>
<text class="tk" x="323.4" y="302.2" text-anchor="end">1.61</text>
<path d="M325.4 279.64h1.8M525.9 279.64h-1.8" stroke="#222" stroke-width="0.5" stroke-opacity="0.8"/>
<text class="tk" x="323.4" y="281.9" text-anchor="end">1.62</text>
<path d="M325.4 259.38h1.8M525.9 259.38h-1.8" stroke="#222" stroke-width="0.5" stroke-opacity="0.8"/>
<text class="tk" x="323.4" y="261.7" text-anchor="end">1.63</text>
<text class="ax" x="424.6" y="438.2" text-anchor="middle">ω<tspan font-size="4.8" dy="2.8">τ</tspan><tspan dy="-2.8"> (eV)</tspan></text>
<text class="ax" transform="translate(298.6 332.2) rotate(-90)" text-anchor="middle">ω<tspan font-size="4.8" dy="2.6">t</tspan><tspan dy="-2.6"> (eV)</tspan></text>
<text x="437.6" y="236.6" text-anchor="middle" font-size="8.0" font-weight="bold">ω<tspan font-size="5.0" dy="1.6">T</tspan><tspan dy="-1.6"> = -0.023 eV</tspan></text>
<rect x="533.8" y="243.0" width="10.4" height="177.5" fill="url(#cbar)"/>
<rect x="533.8" y="243.0" width="10.4" height="177.5" fill="none" stroke="#333" stroke-opacity="0.5" stroke-width="0.4"/>
<path d="M533.8 243.0h1.5M544.2 243.0h-1.5" stroke="#222" stroke-width="0.4" stroke-opacity="0.7"/>
<text class="cb" x="545.4" y="244.9">15</text>
<path d="M533.8 272.5833333333333h1.5M544.2 272.5833333333333h-1.5" stroke="#222" stroke-width="0.4" stroke-opacity="0.7"/>
<text class="cb" x="545.4" y="274.5">10</text>
<path d="M533.8 302.1666666666667h1.5M544.2 302.1666666666667h-1.5" stroke="#222" stroke-width="0.4" stroke-opacity="0.7"/>
<text class="cb" x="545.4" y="304.1">5</text>
<path d="M533.8 331.75h1.5M544.2 331.75h-1.5" stroke="#222" stroke-width="0.4" stroke-opacity="0.7"/>
<text class="cb" x="545.4" y="333.6">0</text>
<path d="M533.8 361.3333333333333h1.5M544.2 361.3333333333333h-1.5" stroke="#222" stroke-width="0.4" stroke-opacity="0.7"/>
<text class="cb" x="545.4" y="363.2">-5</text>
<path d="M533.8 390.91666666666663h1.5M544.2 390.91666666666663h-1.5" stroke="#222" stroke-width="0.4" stroke-opacity="0.7"/>
<text class="cb" x="545.4" y="392.8">-10</text>
<path d="M533.8 420.5h1.5M544.2 420.5h-1.5" stroke="#222" stroke-width="0.4" stroke-opacity="0.7"/>
<text class="cb" x="545.4" y="422.4">-15</text>
<text class="pl" x="286.8" y="240.6">(d)</text>
</svg></body></html>
